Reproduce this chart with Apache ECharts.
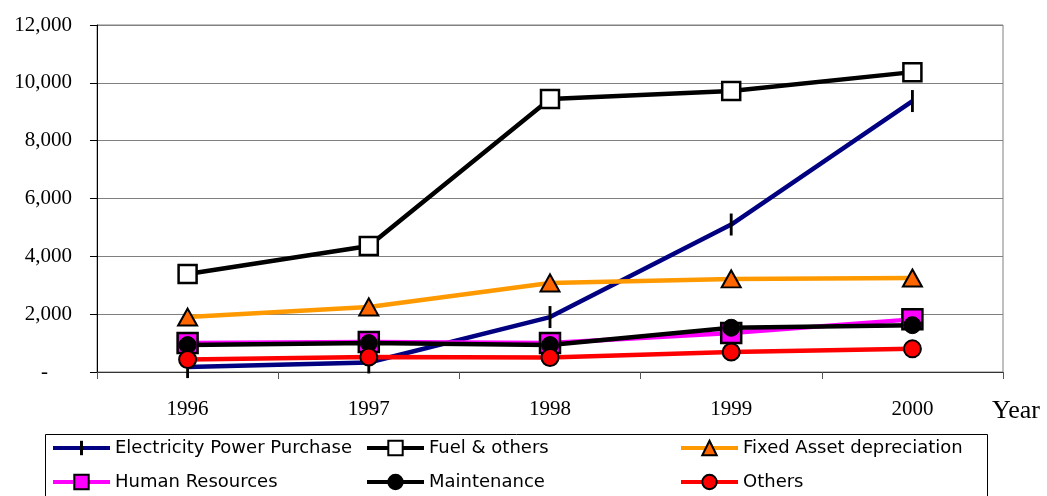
<!DOCTYPE html>
<html>
<head>
<meta charset="utf-8">
<script src="https://cdn.jsdelivr.net/npm/echarts@6/dist/echarts.min.js"></script>
<style>
  html, body { margin: 0; padding: 0; background: #fff; }
  #chart { width: 1047px; height: 496px; }
</style>
</head>
<body>
<div id="chart"></div>
<script>
// Annual cost components, 1996-2000
const years = ['1996', '1997', '1998', '1999', '2000'];
const electricityPowerPurchase = [170, 330, 1900, 5100, 9370];
const fuelAndOthers = [3390, 4360, 9440, 9720, 10370];
const fixedAssetDepreciation = [1900, 2250, 3080, 3220, 3250];
const humanResources = [1000, 1040, 1000, 1350, 1820];
const maintenance = [930, 1000, 930, 1530, 1620];
const others = [430, 520, 500, 690, 800];

const yTicks = { min: 0, max: 12000, interval: 2000 };

const serif = '"Liberation Serif", "Times New Roman", serif';
const sans = '"DejaVu Sans", Verdana, sans-serif';

// vertical tick marker; the two zero-length segments widen its bounding box
const tickMarker = 'path://M0,0L0,22M-10,11L-10,11M10,11L10,11';

const seriesDefs = [
  { name: 'Electricity Power Purchase', data: electricityPowerPurchase, line: '#000080',
    symbol: tickMarker, size: [20, 22], fill: '#000000', border: 3 },
  { name: 'Fuel & others', data: fuelAndOthers, line: '#000000',
    symbol: 'rect', size: 18, fill: '#ffffff', border: 2.5 },
  { name: 'Fixed Asset depreciation', data: fixedAssetDepreciation, line: '#FF9900',
    symbol: 'triangle', size: [19, 17], fill: '#FF6600', border: 2 },
  { name: 'Human Resources', data: humanResources, line: '#FF00FF',
    symbol: 'rect', size: 20, fill: '#FF00FF', border: 2.5 },
  { name: 'Maintenance', data: maintenance, line: '#000000',
    symbol: 'circle', size: 17, fill: '#000000', border: 1 },
  { name: 'Others', data: others, line: '#FF0000',
    symbol: 'circle', size: 17, fill: '#FF0000', border: 2 }
];

function legendItem(def) {
  return {
    name: def.name,
    itemStyle: { color: def.fill, borderColor: '#000000', borderWidth: def.symbol === tickMarker ? 3 : 2 },
    lineStyle: { color: def.line, width: 4 }
  };
}

function legendColumn(left, names) {
  return {
    orient: 'vertical',
    left: left,
    top: 439,
    padding: 0,
    itemWidth: 57,
    itemHeight: 18,
    itemGap: 16,
    selectedMode: false,
    textStyle: { fontFamily: sans, fontSize: 18, color: '#000', lineHeight: 18 },
    data: names.map(n => legendItem(seriesDefs.find(d => d.name === n)))
  };
}

const chart = echarts.init(document.getElementById('chart'), null, { renderer: 'canvas' });

chart.setOption({
  animation: false,
  backgroundColor: '#ffffff',
  grid: {
    left: 97, right: 44, top: 25, bottom: 124,
    show: true, borderColor: '#808080', borderWidth: 1
  },
  xAxis: {
    type: 'category',
    data: years,
    boundaryGap: true,
    name: 'Year',
    nameLocation: 'end',
    nameGap: -11,
    nameTextStyle: {
      fontFamily: serif, fontSize: 26, color: '#000',
      align: 'left', verticalAlign: 'top', padding: [26, 0, 0, 0]
    },
    axisLine: { lineStyle: { color: '#333', width: 1 } },
    axisTick: { show: true, inside: false, length: 7, lineStyle: { color: '#555' } },
    axisLabel: { fontFamily: serif, fontSize: 21, color: '#000', margin: 27 },
    splitLine: { show: false }
  },
  yAxis: {
    type: 'value',
    min: yTicks.min,
    max: yTicks.max,
    interval: yTicks.interval,
    axisLine: { show: true, lineStyle: { color: '#000', width: 1 } },
    axisTick: { show: true, inside: false, length: 7, lineStyle: { color: '#000' } },
    axisLabel: {
      fontFamily: serif, fontSize: 21, color: '#000', margin: 25,
      formatter: v => v === 0 ? '{dash|-}' : v.toLocaleString('en-US'),
      rich: { dash: { fontFamily: serif, fontSize: 21, color: '#000', padding: [0, 24, 0, 0] } }
    },
    splitLine: { show: true, lineStyle: { color: '#808080', width: 1 } }
  },
  legend: [
    legendColumn(51, ['Electricity Power Purchase', 'Human Resources']),
    legendColumn(365, ['Fuel & others', 'Maintenance']),
    legendColumn(679, ['Fixed Asset depreciation', 'Others'])
  ],
  graphic: [{
    type: 'rect',
    left: 43, top: 432,
    shape: { width: 942, height: 80 },
    style: { fill: 'none', stroke: '#000', lineWidth: 1 },
    silent: true
  }],
  series: seriesDefs.map(def => ({
    name: def.name,
    type: 'line',
    data: def.data,
    symbol: def.symbol,
    symbolSize: def.size,
    showSymbol: true,
    lineStyle: { color: def.line, width: 4.5 },
    itemStyle: { color: def.fill, borderColor: '#000000', borderWidth: def.border },
    emphasis: { disabled: true }
  }))
});
</script>
</body>
</html>
